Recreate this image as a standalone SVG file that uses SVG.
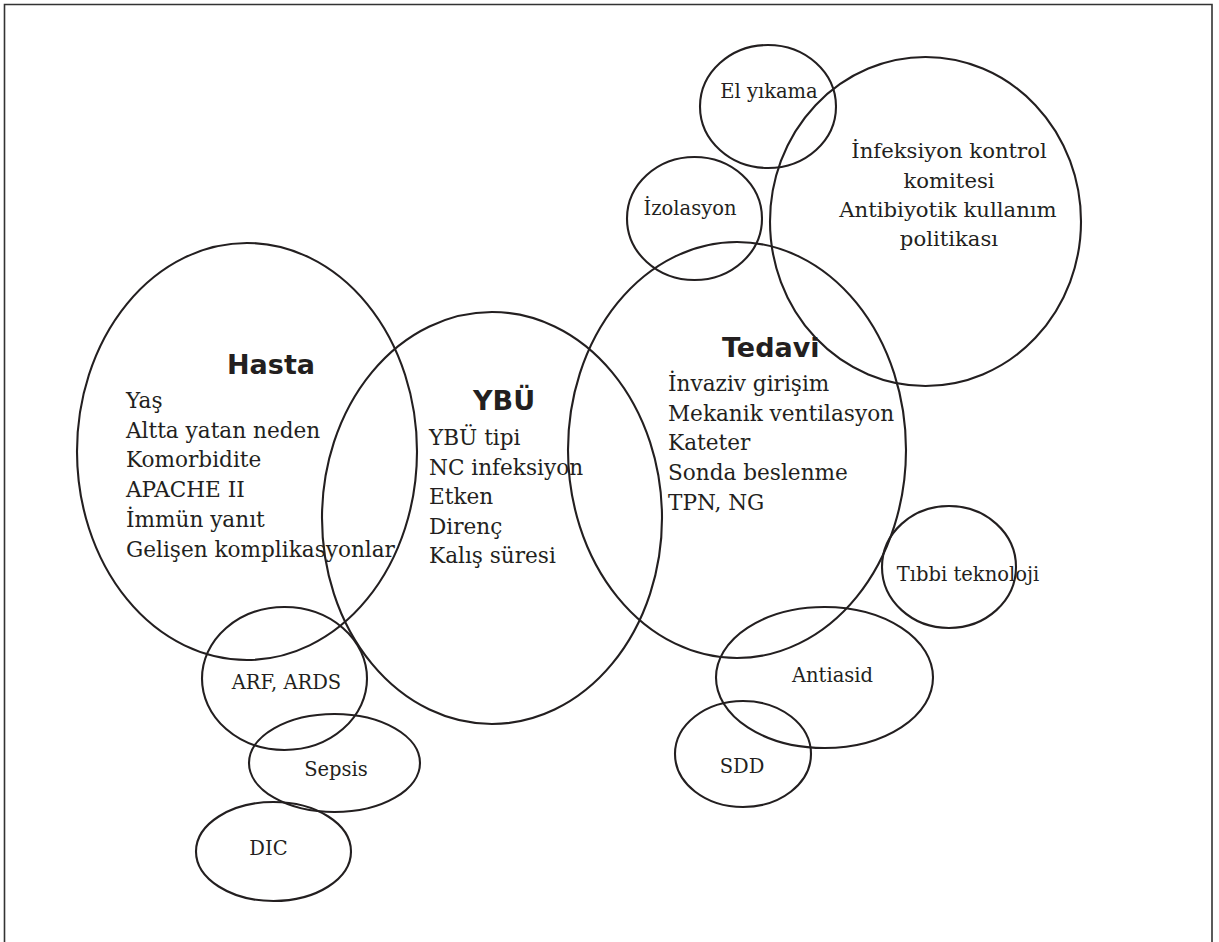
<svg xmlns="http://www.w3.org/2000/svg" width="1219" height="942" viewBox="0 0 1219 942">
<style>
.e{fill:none;stroke:#231f20;stroke-width:2.1}
.t{font-family:"DejaVu Serif","Liberation Serif",serif;fill:#231f20;font-size:21.6px}
.s{font-family:"DejaVu Serif","Liberation Serif",serif;fill:#231f20;font-size:19.5px;text-anchor:middle}
.c{font-family:"DejaVu Serif","Liberation Serif",serif;fill:#231f20;font-size:21.2px;text-anchor:middle}
.h{font-family:"DejaVu Sans","Liberation Sans",sans-serif;font-weight:bold;fill:#231f20;font-size:27px}
</style>
<rect width="1219" height="942" fill="#fff"/>
<path d="M4.5,942 V4.5 H1212 V942" fill="none" stroke="#333" stroke-width="1.6"/>
<g id="hasta">
<ellipse class="e" cx="247" cy="451.5" rx="170" ry="208.5"/>
<text class="h" x="227" y="374">Hasta</text>
<text class="t" x="126" y="408">Yaş</text>
<text class="t" x="126" y="437.5">Altta yatan neden</text>
<text class="t" x="126" y="467">Komorbidite</text>
<text class="t" x="126" y="497">APACHE II</text>
<text class="t" x="126" y="527">İmmün yanıt</text>
<text class="t" x="126" y="557">Gelişen komplikasyonlar</text>
</g>
<g id="ybu">
<ellipse class="e" cx="492" cy="518" rx="170" ry="206"/>
<text class="h" x="473" y="410">YBÜ</text>
<text class="t" x="429" y="445">YBÜ tipi</text>
<text class="t" x="429" y="474.5">NC infeksiyon</text>
<text class="t" x="429" y="504">Etken</text>
<text class="t" x="429" y="533.5">Direnç</text>
<text class="t" x="429" y="563">Kalış süresi</text>
</g>
<g id="tedavi">
<ellipse class="e" cx="737" cy="450" rx="169" ry="208"/>
<text class="h" x="722" y="357">Tedavi</text>
<text class="t" x="668" y="391">İnvaziv girişim</text>
<text class="t" x="668" y="420.5">Mekanik ventilasyon</text>
<text class="t" x="668" y="450">Kateter</text>
<text class="t" x="668" y="480">Sonda beslenme</text>
<text class="t" x="668" y="510">TPN, NG</text>
</g>
<g id="infeksiyon-kontrol">
<ellipse class="e" cx="925.5" cy="221.5" rx="155.5" ry="164.5"/>
<text class="c" x="949" y="158">İnfeksiyon kontrol</text>
<text class="c" x="949" y="187.5">komitesi</text>
<text class="c" x="948" y="217">Antibiyotik kullanım</text>
<text class="c" x="949" y="246">politikası</text>
</g>
<g id="el-yikama">
<ellipse class="e" cx="768" cy="106.5" rx="68" ry="61.5"/>
<text class="s" x="769" y="97.5">El yıkama</text>
</g>
<g id="izolasyon">
<ellipse class="e" cx="694.5" cy="218.5" rx="67.5" ry="61.5"/>
<text class="s" x="690" y="215">İzolasyon</text>
</g>
<g id="arf-ards">
<ellipse class="e" cx="284.5" cy="678.5" rx="82.5" ry="71.5"/>
<text class="s" x="286.5" y="689">ARF, ARDS</text>
</g>
<g id="sepsis">
<ellipse class="e" cx="334.5" cy="763" rx="85.5" ry="49"/>
<text class="s" x="336" y="776">Sepsis</text>
</g>
<g id="dic">
<ellipse class="e" cx="273.5" cy="851.5" rx="77.5" ry="49.5"/>
<text class="s" x="268.5" y="855">DIC</text>
</g>
<g id="tibbi-teknoloji">
<ellipse class="e" cx="949" cy="567" rx="67" ry="61"/>
<text class="s" x="968" y="581">Tıbbi teknoloji</text>
</g>
<g id="antiasid">
<ellipse class="e" cx="824.5" cy="677.5" rx="108.5" ry="70.5"/>
<text class="s" x="832.5" y="682">Antiasid</text>
</g>
<g id="sdd">
<ellipse class="e" cx="743" cy="754" rx="68" ry="53"/>
<text class="s" x="742" y="773">SDD</text>
</g>
</svg>
